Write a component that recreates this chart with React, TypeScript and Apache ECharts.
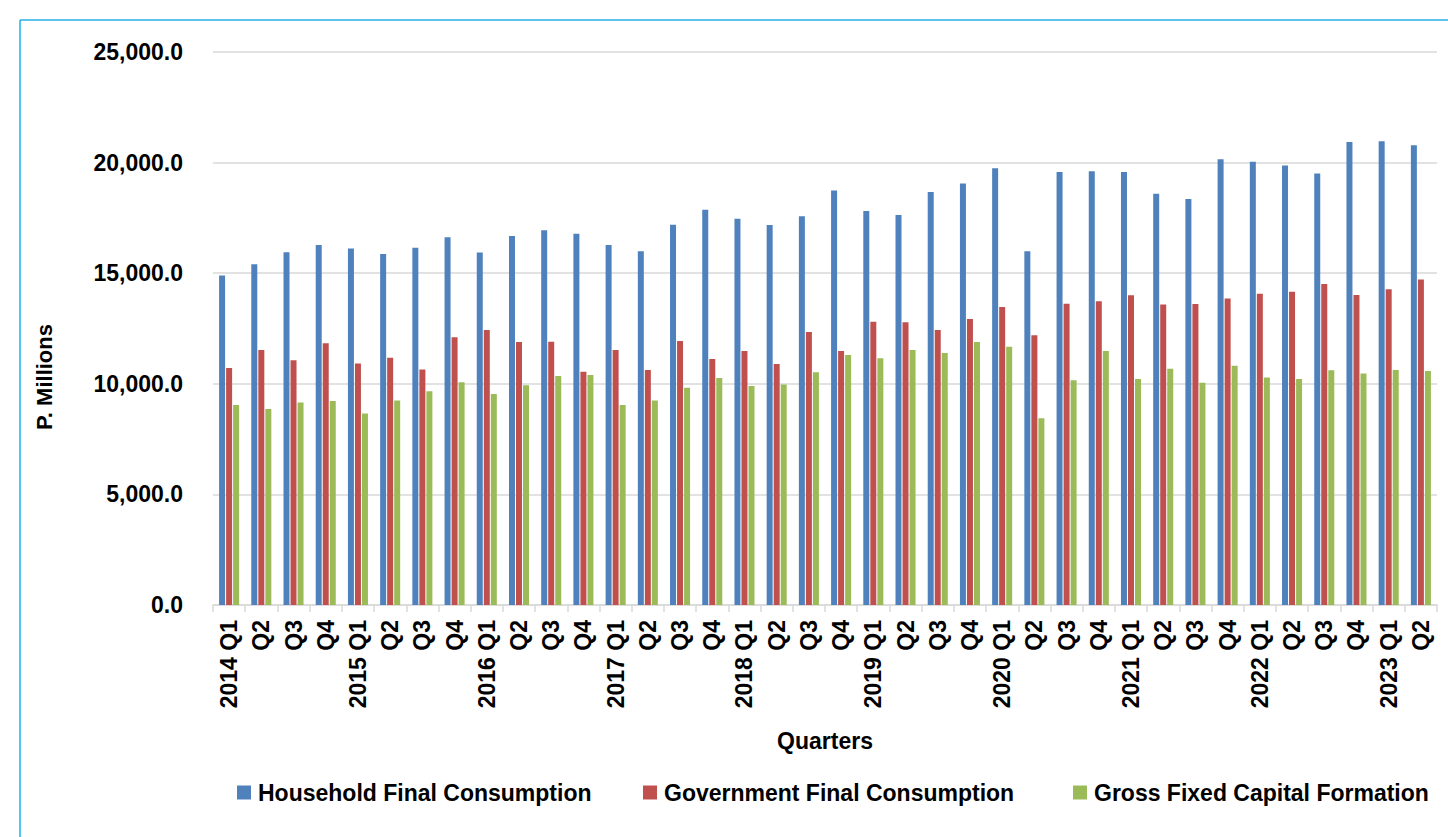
import React, { useEffect, useRef } from "react";
import * as echarts from "echarts";

const categories = [
  "2014 Q1", "Q2", "Q3", "Q4",
  "2015 Q1", "Q2", "Q3", "Q4",
  "2016 Q1", "Q2", "Q3", "Q4",
  "2017 Q1", "Q2", "Q3", "Q4",
  "2018 Q1", "Q2", "Q3", "Q4",
  "2019 Q1", "Q2", "Q3", "Q4",
  "2020 Q1", "Q2", "Q3", "Q4",
  "2021 Q1", "Q2", "Q3", "Q4",
  "2022 Q1", "Q2", "Q3", "Q4",
  "2023 Q1", "Q2",
];

const seriesNames = [
  "Household Final Consumption",
  "Government Final Consumption",
  "Gross Fixed Capital Formation",
];

const household = [
  14900, 15400, 15950, 16270, 16120, 15870, 16150, 16620, 15940, 16680,
  16940, 16780, 16270, 15990, 17190, 17870, 17460, 17180, 17580, 18740,
  17810, 17630, 18670, 19060, 19740, 15990, 19570, 19610, 19570, 18590,
  18350, 20150, 20040, 19870, 19510, 20930, 20960, 20780,
];

const government = [
  10710, 11530, 11070, 11830, 10920, 11180, 10650, 12100, 12430, 11890,
  11900, 10550, 11530, 10620, 11930, 11120, 11480, 10890, 12340, 11480,
  12810, 12780, 12430, 12930, 13470, 12200, 13620, 13730, 14000, 13590,
  13610, 13860, 14070, 14160, 14510, 14010, 14270, 14720,
];

const gfcf = [
  9040, 8860, 9160, 9220, 8660, 9250, 9660, 10070, 9540, 9940,
  10350, 10400, 9040, 9250, 9820, 10260, 9900, 9970, 10520, 11300,
  11150, 11530, 11390, 11890, 11680, 8440, 10160, 11480, 10220, 10680,
  10050, 10820, 10290, 10220, 10610, 10460, 10620, 10580,
];

const colors = ["#4F81BD", "#C0504D", "#9BBB59"];
const FONT = "'Liberation Sans', Arial, sans-serif";

export default function App() {
  const ref = useRef<HTMLDivElement>(null);

  useEffect(() => {
    if (!ref.current) return;
    const chart = echarts.init(ref.current, undefined, { renderer: "svg" });
    const values = [household, government, gfcf];
    const legendLefts = [232, 638, 1068];

    chart.setOption({
      animation: false,
      backgroundColor: "#ffffff",
      textStyle: { fontFamily: FONT },
      grid: {
        left: 213,
        right: 11,
        top: 52,
        bottom: 232,
        containLabel: false,
        outerBoundsMode: "none",
      },
      legend: seriesNames.map((n, i) => ({
        data: [n],
        left: legendLefts[i],
        top: 776,
        itemWidth: 14,
        itemHeight: 14,
        itemGap: 0,
        icon: "rect",
        textStyle: {
          fontFamily: FONT,
          fontWeight: "bold",
          fontSize: 23,
          color: "#000",
          padding: [0, 0, 0, 2],
        },
      })),
      xAxis: {
        type: "category",
        data: categories,
        name: "Quarters",
        nameLocation: "middle",
        nameGap: 124,
        nameTextStyle: {
          fontFamily: FONT,
          fontWeight: "bold",
          fontSize: 23,
          color: "#000",
        },
        axisLine: { show: true, lineStyle: { color: "#d9d9d9", width: 1.5 } },
        axisTick: { show: true, length: 7, lineStyle: { color: "#d9d9d9", width: 1.5 } },
        axisLabel: {
          interval: 0,
          rotate: 90,
          margin: 15,
          fontFamily: FONT,
          fontWeight: "bold",
          fontSize: 23,
          color: "#000",
        },
        splitLine: { show: false },
      },
      yAxis: {
        type: "value",
        min: 0,
        max: 25000,
        interval: 5000,
        axisLine: { show: false },
        axisTick: { show: false },
        axisLabel: {
          margin: 30,
          fontFamily: FONT,
          fontWeight: "bold",
          fontSize: 23,
          color: "#000",
          formatter: (v: number) =>
            v.toLocaleString("en-US", {
              minimumFractionDigits: 1,
              maximumFractionDigits: 1,
            }),
        },
        splitLine: { show: true, lineStyle: { color: "#d9d9d9", width: 1.5 } },
      },
      series: seriesNames.map((n, i) => ({
        name: n,
        type: "bar",
        data: values[i],
        barWidth: 6,
        barGap: "17%",
        itemStyle: { color: colors[i] },
      })),
      graphic: [
        {
          type: "line",
          shape: { x1: 20, y1: 20, x2: 1448, y2: 20 },
          style: { stroke: "#5EC3EC", lineWidth: 2 },
        },
        {
          type: "line",
          shape: { x1: 20, y1: 20, x2: 20, y2: 837 },
          style: { stroke: "#1BB1EE", lineWidth: 1.5 },
        },
        {
          type: "text",
          x: 44,
          y: 377,
          rotation: Math.PI / 2,
          style: {
            text: "P. Millions",
            fontFamily: FONT,
            fontWeight: "bold",
            fontSize: 22,
            fill: "#000",
            align: "center",
            verticalAlign: "middle",
          },
        },
      ],
    });

    return () => chart.dispose();
  }, []);

  return (
    <div
      ref={ref}
      style={{ position: "fixed", left: 0, top: 0, width: 1448, height: 837 }}
    />
  );
}
